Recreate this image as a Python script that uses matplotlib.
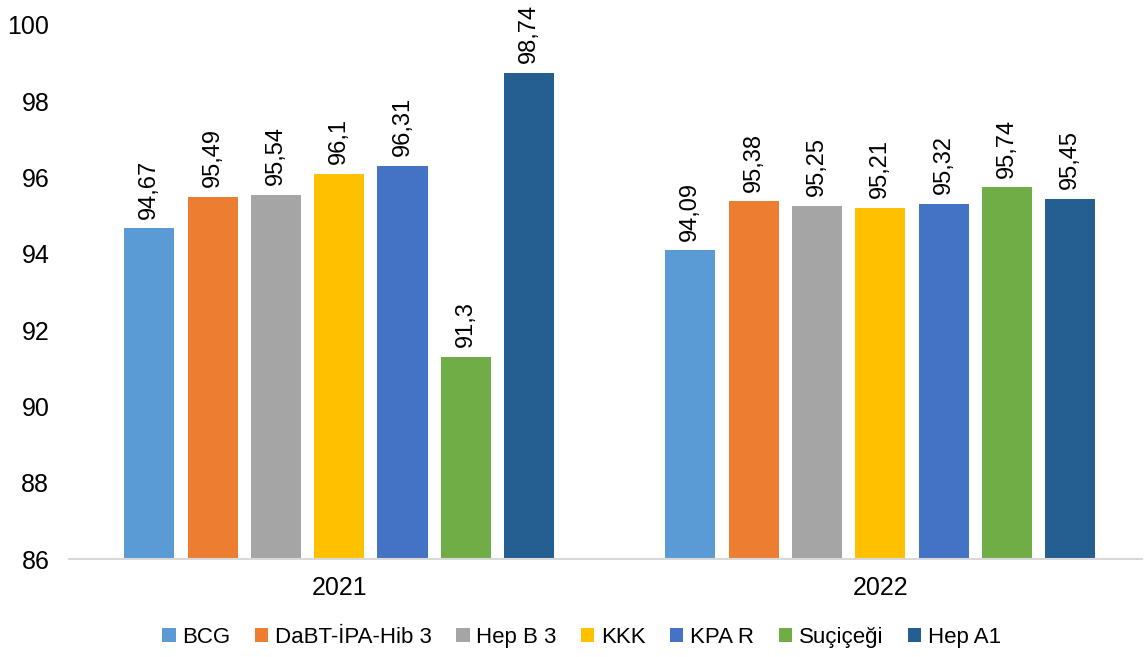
import numpy as np
import matplotlib.pyplot as plt

plt.rcParams['font.family'] = ['Liberation Sans Narrow', 'Liberation Sans', 'DejaVu Sans']

years = ['2021', '2022']
vaccines = ['BCG', 'DaBT-İPA-Hib 3', 'Hep B 3', 'KKK', 'KPA R', 'Suçiçeği', 'Hep A1']
values_2021 = [94.67, 95.49, 95.54, 96.1, 96.31, 91.3, 98.74]
values_2022 = [94.09, 95.38, 95.25, 95.21, 95.32, 95.74, 95.45]
colors = ['#5B9BD5', '#ED7D31', '#A5A5A5', '#FFC000', '#4472C4', '#70AD47', '#255E91']

fig = plt.figure(figsize=(11.45, 6.57), dpi=100)
ax = fig.add_axes([0.060, 0.149, 0.937, 0.813])

x = np.arange(len(years))
slot = 0.117
width = 0.0925
data = np.array([values_2021, values_2022])
base = 86

for i, name in enumerate(vaccines):
    pos = x + (i - 3) * slot
    vals = data[:, i]
    ax.bar(pos, vals - base, width, bottom=base, color=colors[i], label=name)
    for p, v in zip(pos, vals):
        ax.annotate('{:g}'.format(v).replace('.', ','), (p, v), xytext=(0, 7),
                    textcoords='offset points', rotation=90, ha='center', va='bottom',
                    fontsize=17)

ax.set_ylim(86, 100)
ax.set_xlim(-0.5, 1.483)
ax.set_yticks(range(86, 101, 2))
ax.set_xticks(x)
ax.set_xticklabels(years)
ax.tick_params(axis='both', length=0, labelsize=18)
ax.tick_params(axis='y', pad=14)
ax.tick_params(axis='x', pad=12)
for s in ['top', 'right', 'left']:
    ax.spines[s].set_visible(False)
ax.spines['bottom'].set_color('#D9D9D9')
ax.spines['bottom'].set_linewidth(1.5)

ax.legend(loc='center', bbox_to_anchor=(0.478, -0.146), ncol=7, frameon=False,
          fontsize=16, handlelength=0.6, handleheight=0.6, handletextpad=0.3,
          columnspacing=1.1)

fig.savefig('out.png', dpi=100)
